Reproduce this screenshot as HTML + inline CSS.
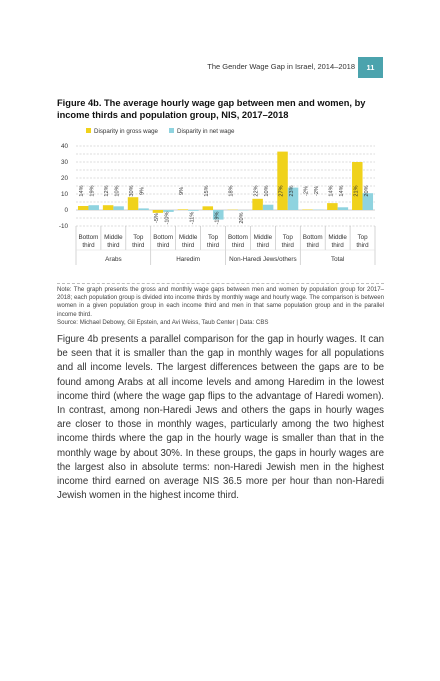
<!DOCTYPE html>
<html><head><meta charset="utf-8"><style>
body{margin:0;background:#fff;width:440px;height:681px;position:relative;font-family:"Liberation Sans",sans-serif;color:#222;overflow:hidden}
.abs{position:absolute}
#hdr{right:85px;top:62px;font-size:7.5px;color:#333}
#pg{left:358px;top:57px;width:25px;height:21px;background:#4ba3ad;color:#fff;font-size:7.5px;font-weight:bold;text-align:center;line-height:21px}
#title{left:57px;top:98px;width:330px;font-size:9.3px;font-weight:bold;line-height:11.5px;color:#111}
#note{left:57px;top:283px;width:327px;font-size:6.1px;line-height:8.2px;color:#444;text-align:justify;border-top:1px dashed #bbb;padding-top:2px}
#body{left:57px;top:333px;width:327px;font-size:9.7px;line-height:14.2px;color:#333;text-align:justify}
</style></head><body>
<div id="hdr" class="abs">The Gender Wage Gap in Israel, 2014–2018</div>
<div id="pg" class="abs">11</div>
<div id="title" class="abs">Figure 4b. The average hourly wage gap between men and women, by income thirds and population group, NIS, 2017–2018</div>
<svg class="abs" style="left:0;top:0" width="440" height="281" id="chart"></svg>
<div id="note" class="abs">Note: The graph presents the gross and monthly wage gaps between men and women by population group for 2017–2018; each population group is divided into income thirds by monthly wage and hourly wage. The comparison is between women in a given population group in each income third and men in that same population group and in the parallel income third.<br>Source: Michael Debowy, Gil Epstein, and Avi Weiss, Taub Center | Data: CBS</div>
<div id="body" class="abs">Figure 4b presents a parallel comparison for the gap in hourly wages. It can be seen that it is smaller than the gap in monthly wages for all populations and all income levels. The largest differences between the gaps are to be found among Arabs at all income levels and among Haredim in the lowest income third (where the wage gap flips to the advantage of Haredi women). In contrast, among non-Haredi Jews and others the gaps in hourly wages are closer to those in monthly wages, particularly among the two highest income thirds where the gap in the hourly wage is smaller than that in the monthly wage by about 30%. In these groups, the gaps in hourly wages are the largest also in absolute terms: non-Haredi Jewish men in the highest income third earned on average NIS 36.5 more per hour than non-Haredi Jewish women in the highest income third.</div>
<script>
const categories=["Bottom third","Middle third","Top third","Bottom third","Middle third","Top third","Bottom third","Middle third","Top third","Bottom third","Middle third","Top third"];
const groups=["Arabs","Haredim","Non-Haredi Jews/others","Total"];
const grossValues=[2.5,3,8,-1.8,0.4,2.3,0.2,7,36.5,0.3,4.3,30];
const netValues=[3,2.3,1,-1.2,-0.5,-6,-0.2,3.3,14,0.2,1.7,10.5];
const grossLabels=["14%","12%","30%","-5%","9%","15%","18%","22%","27%","-2%","14%","21%"];
const netLabels=["19%","10%","9%","-10%","-11%","-19%","20%","10%","23%","-2%","14%","20%"];
const yTicks=[40,30,20,10,0,-10];
const svg=document.getElementById('chart');const NS='http://www.w3.org/2000/svg';
const x0=76,x1=375,cw=(x1-x0)/categories.length;
const y=v=>210-v*1.6;
function mk(t,a,txt){const e=document.createElementNS(NS,t);for(const k in a)e.setAttribute(k,a[k]);if(txt!=null)e.textContent=txt;svg.appendChild(e);return e;}
let e=mk('rect',{x:86,y:128,width:5,height:5,fill:'#f0d21b'});
e=mk('text',{x:94,y:133,'font-size':6.2,fill:'#333'},'Disparity in gross wage');
e=mk('rect',{x:169,y:128,width:5,height:5,fill:'#8fd3df'});
e=mk('text',{x:177,y:133,'font-size':6.2,fill:'#333'},'Disparity in net wage');
for(let v=40;v>=-10;v-=5){e=mk('line',{x1:x0,x2:x1,y1:y(v),y2:y(v),stroke:v===0?'#999':'#bbb','stroke-width':0.6,'stroke-dasharray':v===0?'':'2,1.5'});}
yTicks.forEach(v=>{e=mk('text',{x:68,y:y(v)+2.2,'font-size':6.3,fill:'#333','text-anchor':'end'},String(v));});
categories.forEach((c,i)=>{const cx=x0+cw*(i+0.5);
 [[grossValues,'#f0d21b',-10.5,grossLabels],[netValues,'#8fd3df',0,netLabels]].forEach(([arr,col,off,lab])=>{const v=arr[i];
  e=mk('rect',{x:cx+off,y:Math.min(y(v),y(0)),width:10.5,height:Math.abs(y(v)-y(0)),fill:col});
  const lx=cx+off+5.25+2,ly=v>=0?193:220;
  e=mk('text',{x:lx,y:ly,'font-size':5.6,fill:'#333','text-anchor':'middle',transform:`rotate(-90 ${lx-2} ${ly})`},lab[i]);
 });
 const l=x0+cw*i;
 e=mk('line',{x1:l,x2:l,y1:226,y2:i%3===0?265:250,stroke:'#bbb','stroke-width':0.6});
 const w=c.split(' ');
 e=mk('text',{x:cx,y:239,'font-size':6.3,fill:'#333','text-anchor':'middle'},w[0]);
 e=mk('text',{x:cx,y:247,'font-size':6.3,fill:'#333','text-anchor':'middle'},w[1]);
});
e=mk('line',{x1:x1,x2:x1,y1:226,y2:265,stroke:'#bbb','stroke-width':0.6});
e=mk('line',{x1:x0,x2:x1,y1:250,y2:250,stroke:'#ddd','stroke-width':0.6});
groups.forEach((g,i)=>{e=mk('text',{x:x0+cw*(i*3+1.5),y:261,'font-size':6.3,fill:'#333','text-anchor':'middle'},g);});
</script>
</body></html>
